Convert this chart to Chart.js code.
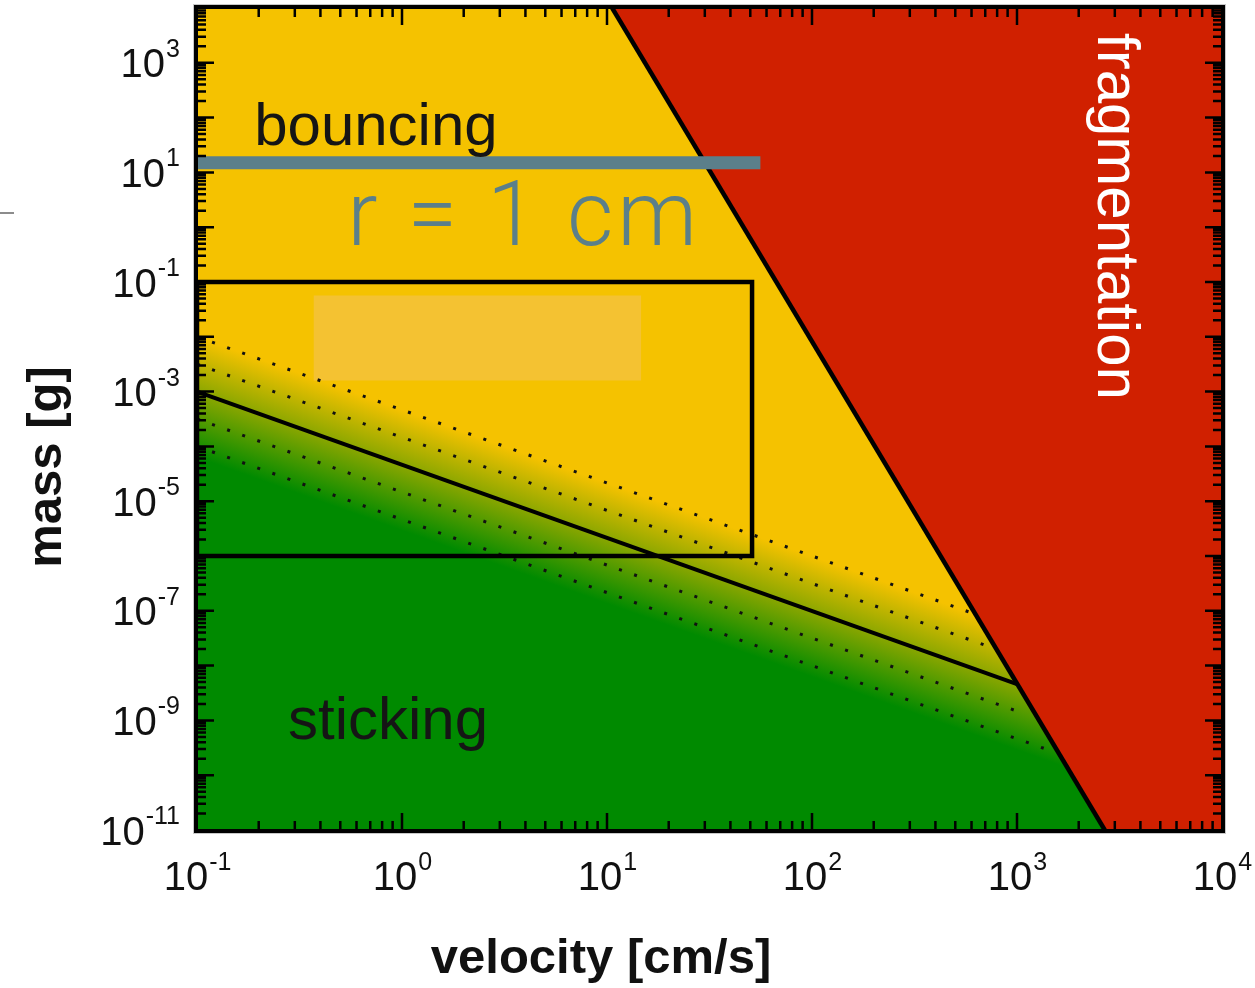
<!DOCTYPE html>
<html><head><meta charset="utf-8">
<script src="https://cdn.jsdelivr.net/npm/chart.js@4/dist/chart.umd.min.js"></script>
<style>
html,body{margin:0;padding:0;background:#fff;}
#wrap{position:relative;width:1255px;height:988px;}
canvas{display:block;}
#mark{position:absolute;left:0;top:212px;width:14px;height:2px;background:#8c8c8c;}
</style>
</head><body>
<div id="wrap"><canvas id="c" width="1255" height="988"></canvas><div id="mark"></div></div>
<script>
// ---- axis ranges and tick labels (exponents of 10) ----
const xRange = [0.1, 1e4];
const yRange = [1e-11, 1e4];
const xTickExps = [-1, 0, 1, 2, 3, 4];
const yTickExps = [-11, -9, -7, -5, -3, -1, 1, 3];

// ---- fragmentation threshold line (velocity cm/s, mass g) ----
const fragV = [10.6, 2680];
const fragM = [1e4, 1e-11];

// ---- sticking / bouncing threshold ----
const stickV = [0.1, 1000];
const stickM = [1e-3, 4.6e-9];

// ---- dotted uncertainty lines ----
const dotUp1V = [0.1, 625];   const dotUp1M = [1e-2, 8.7e-8];
const dotUp2V = [0.1, 791];   const dotUp2M = [3.16e-3, 2.0e-8];
const dotLo1V = [0.1, 1100];  const dotLo1M = [3.16e-4, 1.3e-9];
const dotLo2V = [0.1, 1350];  const dotLo2M = [1e-4, 3.1e-10];

// ---- black box (explored parameter range) ----
const boxV = [0.1, 51, 51, 0.1, 0.1];
const boxM = [0.1, 0.1, 1e-6, 1e-6, 0.1];

// ---- light highlight patch ----
const patchV = [0.37, 14.7];
const patchTop = 0.057;
const patchBottom = 1.6e-3;

// ---- r = 1 cm marker line ----
const rLineV = [0.1, 56];
const rLineM = [15, 15];

// ---- region labels (anchor in data coords) ----
const regionLabels = ['bouncing', 'sticking', 'fragmentation', 'r = 1 cm'];
const regionLabelV = [0.19, 0.278, 2483, 0.54];
const regionLabelM = [31.6, 4.6e-10, 3500, 0.473];

const COL = {
  yellow: '#F5C200', red: '#D02000', green: '#008A00',
  patch: '#F4C232', slate: '#5B7F8A'
};

const pts = (xs, ys) => xs.map((x, i) => ({x: x, y: ys[i]}));

function bandGradient(context) {
  const chart = context.chart;
  const ca = chart.chartArea;
  if (!ca || !chart.scales.x) return COL.yellow;
  const xs = chart.scales.x, ys = chart.scales.y;
  const x0 = xs.getPixelForValue(stickV[0]), y0 = ys.getPixelForValue(stickM[0]);
  const x1 = xs.getPixelForValue(stickV[1]), y1 = ys.getPixelForValue(stickM[1]);
  let dx = x1 - x0, dy = y1 - y0;
  const L = Math.hypot(dx, dy); dx /= L; dy /= L;
  const nx = -dy, ny = dx;
  const dec = ys.getPixelForValue(1) - ys.getPixelForValue(10);
  const perp = dec * dx;
  const g = chart.ctx.createLinearGradient(
    x0 + nx * perp * 1.2, y0 + ny * perp * 1.2,
    x0 - nx * perp * 1.0, y0 - ny * perp * 1.0);
  g.addColorStop(0, COL.green);
  g.addColorStop(0.5, '#80A400');
  g.addColorStop(1, COL.yellow);
  return g;
}

const base = {showLine: true, pointRadius: 0, pointHoverRadius: 0, tension: 0};
const datasets = [
  Object.assign({}, base, {label: 'r line', data: pts(rLineV, rLineM), borderColor: COL.slate, borderWidth: 13, borderCapStyle: 'butt', fill: false, order: 1}),
  Object.assign({}, base, {label: 'box', data: pts(boxV, boxM), borderColor: '#000', borderWidth: 4.5, borderJoinStyle: 'miter', fill: false, order: 2}),
  Object.assign({}, base, {label: 'stick', data: pts(stickV, stickM), borderColor: '#000', borderWidth: 4, fill: false, order: 3}),
  Object.assign({}, base, {label: 'frag', data: pts(fragV, fragM), borderColor: '#000', borderWidth: 4.5, fill: false, order: 3}),
  Object.assign({}, base, {label: 'd1', data: pts(dotUp1V, dotUp1M), borderColor: '#111', borderWidth: 3, borderDash: [3, 13], fill: false, order: 4}),
  Object.assign({}, base, {label: 'd2', data: pts(dotUp2V, dotUp2M), borderColor: '#111', borderWidth: 3, borderDash: [3, 13], fill: false, order: 4}),
  Object.assign({}, base, {label: 'd3', data: pts(dotLo1V, dotLo1M), borderColor: '#111', borderWidth: 3, borderDash: [3, 13], fill: false, order: 4}),
  Object.assign({}, base, {label: 'd4', data: pts(dotLo2V, dotLo2M), borderColor: '#111', borderWidth: 3, borderDash: [3, 13], fill: false, order: 4}),
  Object.assign({}, base, {label: 'patch', data: pts(patchV, [patchTop, patchTop]), borderWidth: 0, borderColor: 'rgba(0,0,0,0)', backgroundColor: COL.patch, fill: {value: patchBottom}, order: 5}),
  Object.assign({}, base, {label: 'fragRegion', data: pts([fragV[0], fragV[1], xRange[1]], [fragM[0], fragM[1], yRange[0]]), borderWidth: 0, borderColor: 'rgba(0,0,0,0)', backgroundColor: COL.red, fill: 'end', order: 6}),
  Object.assign({}, base, {label: 'lowRegion', data: pts([xRange[0], fragV[0], fragV[1]], [yRange[1], fragM[0], fragM[1]]), borderWidth: 0, borderColor: 'rgba(0,0,0,0)', backgroundColor: bandGradient, fill: 'start', order: 7})
];

const FONT = '"Liberation Sans", Arial, Helvetica, sans-serif';

const decorPlugin = {
  id: 'decor',
  afterDatasetsDraw(chart) {
    const ctx = chart.ctx, xs = chart.scales.x, ys = chart.scales.y;
    ctx.save();
    ctx.textBaseline = 'alphabetic';
    ctx.textAlign = 'left';
    ctx.fillStyle = '#151515';
    ctx.font = '60px ' + FONT;
    ctx.fillText(regionLabels[0], xs.getPixelForValue(regionLabelV[0]), ys.getPixelForValue(regionLabelM[0]));
    ctx.fillText(regionLabels[1], xs.getPixelForValue(regionLabelV[1]), ys.getPixelForValue(regionLabelM[1]));
    ctx.save();
    ctx.translate(xs.getPixelForValue(regionLabelV[2]), ys.getPixelForValue(regionLabelM[2]));
    ctx.rotate(Math.PI / 2);
    ctx.fillStyle = '#ffffff';
    ctx.font = '60px ' + FONT;
    ctx.fillText(regionLabels[2], 0, 0);
    ctx.restore();
    ctx.fillStyle = COL.slate;
    ctx.font = '300 90px Roboto, "Open Sans", Lato, ' + FONT;
    if ('letterSpacing' in ctx) ctx.letterSpacing = '4px';
    ctx.fillText(regionLabels[3], xs.getPixelForValue(regionLabelV[3]), ys.getPixelForValue(regionLabelM[3]));
    if ('letterSpacing' in ctx) ctx.letterSpacing = '0px';
    ctx.restore();
  },
  afterDraw(chart) {
    const ctx = chart.ctx, ca = chart.chartArea, xs = chart.scales.x, ys = chart.scales.y;
    ctx.save();
    ctx.strokeStyle = '#000';
    ctx.lineWidth = 2.5;
    ctx.beginPath();
    const lx0 = Math.log10(xRange[0]), lx1 = Math.log10(xRange[1]);
    for (let k = Math.floor(lx0); k < Math.ceil(lx1); k++) {
      for (let m = 1; m <= 9; m++) {
        const v = m * Math.pow(10, k);
        if (v <= xRange[0] * 1.0001 || v >= xRange[1] * 0.9999) continue;
        const px = xs.getPixelForValue(v);
        const len = m === 1 ? 17 : 9;
        ctx.moveTo(px, ca.bottom); ctx.lineTo(px, ca.bottom - len);
        ctx.moveTo(px, ca.top); ctx.lineTo(px, ca.top + len);
      }
    }
    const ly0 = Math.log10(yRange[0]), ly1 = Math.log10(yRange[1]);
    for (let k = Math.floor(ly0); k < Math.ceil(ly1); k++) {
      for (let m = 1; m <= 9; m++) {
        const v = m * Math.pow(10, k);
        if (v <= yRange[0] * 1.0001 || v >= yRange[1] * 0.9999) continue;
        const py = ys.getPixelForValue(v);
        const len = m === 1 ? 17 : 9;
        ctx.moveTo(ca.left, py); ctx.lineTo(ca.left + len, py);
        ctx.moveTo(ca.right, py); ctx.lineTo(ca.right - len, py);
      }
    }
    ctx.stroke();
    ctx.lineWidth = 4;
    ctx.strokeRect(ca.left - 1, ca.top - 1, ca.right - ca.left + 2, ca.bottom - ca.top + 2);
    ctx.lineWidth = 1;
    ctx.strokeStyle = '#c8c8c8';
    ctx.strokeRect(ca.left - 3.5, ca.top - 3.5, ca.right - ca.left + 7, ca.bottom - ca.top + 7);

    ctx.fillStyle = '#111';
    ctx.textBaseline = 'alphabetic';
    ctx.textAlign = 'left';
    const bigF = '40px ' + FONT, smallF = '25px ' + FONT;
    xTickExps.forEach(e => {
      const px = xs.getPixelForValue(Math.pow(10, e));
      ctx.font = bigF; const w1 = ctx.measureText('10').width;
      ctx.font = smallF; const s = String(e); const w2 = ctx.measureText(s).width;
      const x0 = px - (w1 + w2) / 2;
      ctx.font = bigF; ctx.fillText('10', x0, ca.bottom + 60);
      ctx.font = smallF; ctx.fillText(s, x0 + w1 + 1, ca.bottom + 40);
    });
    yTickExps.forEach(e => {
      const py = ys.getPixelForValue(Math.pow(10, e));
      ctx.font = bigF; const w1 = ctx.measureText('10').width;
      ctx.font = smallF; const s = String(e); const w2 = ctx.measureText(s).width;
      const x0 = ca.left - 17 - (w1 + w2 + 1);
      ctx.font = bigF; ctx.fillText('10', x0, py + 14.5);
      ctx.font = smallF; ctx.fillText(s, x0 + w1 + 1, py - 6);
    });

    ctx.fillStyle = '#111';
    ctx.font = 'bold 49px ' + FONT;
    ctx.textAlign = 'center';
    ctx.fillText('velocity [cm/s]', 601, 973);
    ctx.save();
    ctx.translate(61, 467);
    ctx.rotate(-Math.PI / 2);
    ctx.fillText('mass [g]', 0, 0);
    ctx.restore();
    ctx.restore();
  }
};

new Chart(document.getElementById('c'), {
  type: 'line',
  data: {datasets: datasets},
  options: {
    responsive: false,
    animation: false,
    events: [],
    layout: {padding: {top: 8, right: 33, left: 0, bottom: 0}},
    plugins: {legend: {display: false}, tooltip: {enabled: false}, filler: {propagate: false}},
    scales: {
      x: {type: 'logarithmic', min: xRange[0], max: xRange[1],
          grid: {display: false, drawTicks: false}, border: {display: false},
          ticks: {display: false},
          afterFit: s => { s.height = 158; }},
      y: {type: 'logarithmic', min: yRange[0], max: yRange[1],
          grid: {display: false, drawTicks: false}, border: {display: false},
          ticks: {display: false},
          afterFit: s => { s.width = 197; }}
    }
  },
  plugins: [decorPlugin]
});
</script>
</body></html>
